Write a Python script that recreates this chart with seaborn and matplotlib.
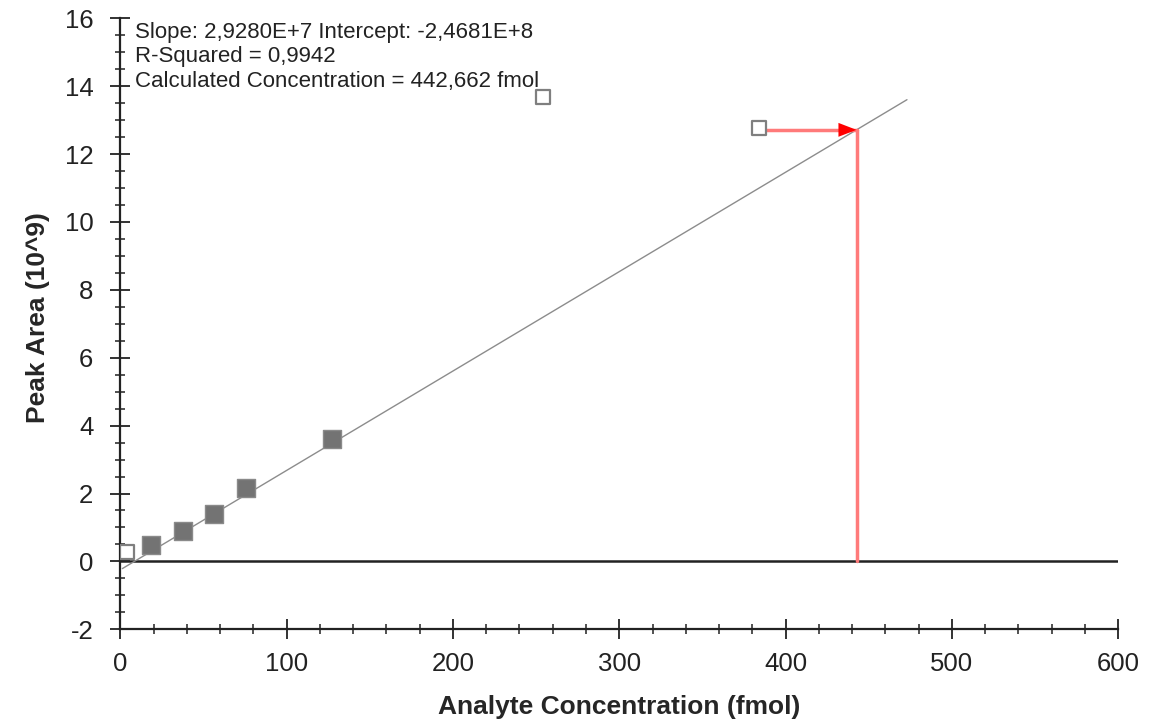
import matplotlib
matplotlib.use("Agg")
import matplotlib.pyplot as plt
from matplotlib.ticker import MultipleLocator
import pandas as pd
import seaborn as sns

# Calibration standards (fmol, peak area in 10^9)
used_x = [18.5, 37.5, 56.5, 75.5, 127.0]
used_y = [0.47, 0.90, 1.40, 2.17, 3.60]
excluded_x = [3.9, 254.0, 384.0]
excluded_y = [0.28, 13.68, 12.76]

# Regression results
slope = 2.9280e7
intercept = -2.4681e8
r_squared = 0.9942
calc_conc = 442.662
fit_range = [1.2, 473.0]

sns.set_style("white")
plt.rcParams["font.family"] = ["Liberation Sans", "DejaVu Sans"]
plt.rcParams["axes.unicode_minus"] = False

fig = plt.figure(figsize=(11.65, 7.24), dpi=100)
ax = fig.add_axes([0.1033, 0.1308, 0.8565, 0.8439])

# fit line (in units of 10^9)
fit = pd.DataFrame({"x": fit_range})
fit["y"] = (slope * fit["x"] + intercept) / 1e9
sns.lineplot(data=fit, x="x", y="y", ax=ax, color="#8c8c8c", lw=1.0, zorder=2)

# zero line
ax.axhline(0, color="#222222", lw=1.8, zorder=1)

# points
used = pd.DataFrame({"x": used_x, "y": used_y})
excl = pd.DataFrame({"x": excluded_x, "y": excluded_y})
sns.scatterplot(data=used, x="x", y="y", ax=ax, marker="s", s=150,
                color="#737373", edgecolor="#8a8a8a", linewidth=1, zorder=4)
sns.scatterplot(data=excl, x="x", y="y", ax=ax, marker="s", s=110,
                facecolor="white", edgecolor="#7f7f7f", linewidth=1.6, zorder=4)

# calculated concentration marker
calc_y = (slope * calc_conc + intercept) / 1e9
ax.plot([excluded_x[2], calc_conc], [calc_y, calc_y], color="#ff7a7a", lw=2.5, zorder=3)
ax.plot([calc_conc, calc_conc], [0, calc_y], color="#ff7a7a", lw=2.5, zorder=3)
ax.annotate("", xy=(calc_conc, calc_y), xytext=(calc_conc - 20, calc_y),
            arrowprops=dict(arrowstyle="-|>,head_length=1.3,head_width=0.5",
                            color="red", lw=0, shrinkA=0, shrinkB=0), zorder=5)

ax.set_xlim(0, 600)
ax.set_ylim(-2, 16)
ax.xaxis.set_major_locator(MultipleLocator(100))
ax.xaxis.set_minor_locator(MultipleLocator(20))
ax.yaxis.set_major_locator(MultipleLocator(2))
ax.yaxis.set_minor_locator(MultipleLocator(0.5))
ax.tick_params(which="major", direction="inout", length=15, width=1.3,
               color="#222222", labelsize=18.5, labelcolor="#222222")
ax.tick_params(which="minor", direction="inout", length=7.5, width=1.1, color="#222222")
ax.tick_params(axis="x", which="both", bottom=True, pad=9)
ax.tick_params(axis="y", which="both", left=True, pad=12)

for side in ["top", "right"]:
    ax.spines[side].set_visible(False)
for side in ["left", "bottom"]:
    ax.spines[side].set_color("#222222")
    ax.spines[side].set_linewidth(1.6)

ax.set_xlabel("Analyte Concentration (fmol)", fontsize=19, fontweight="bold")
ax.set_ylabel("Peak Area (10^9)", fontsize=19, fontweight="bold")
ax.xaxis.set_label_coords(0.5, -0.108)
ax.yaxis.set_label_coords(-0.07, 0.511)

info = (f"Slope: {slope:.4E} Intercept: {intercept:.4E}\n"
        f"R-Squared = {r_squared:.4f}\n"
        f"Calculated Concentration = {calc_conc:.3f} fmol")
info = info.replace("E+0", "E+").replace(".", ",")
fig.text(0.1159, 0.970, info, fontsize=16, va="top", ha="left",
         color="#222222", linespacing=1.23)

fig.savefig("out.png", dpi=100)
